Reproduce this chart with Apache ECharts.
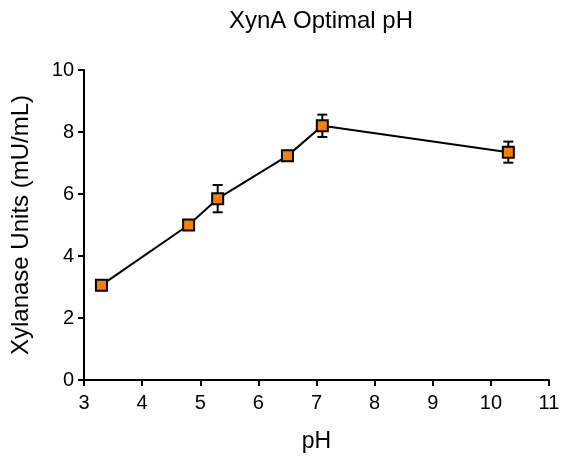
<!DOCTYPE html>
<html>
<head>
<meta charset="utf-8">
<script src="https://cdn.jsdelivr.net/npm/echarts@6/dist/echarts.min.js"></script>
<style>
  html, body { margin: 0; padding: 0; background: #fff; }
  #main { width: 566px; height: 459px; }
</style>
</head>
<body>
<div id="main"></div>
<script>
// data
var phValues = [3.3, 4.8, 5.3, 6.5, 7.1, 10.3];
var unitValues = [3.06, 5.0, 5.85, 7.23, 8.2, 7.35];
var errValues = [0.16, 0.13, 0.44, 0.05, 0.36, 0.34];

var lineData = phValues.map(function (x, i) { return [x, unitValues[i]]; });
var errData = phValues.map(function (x, i) {
  return [x, unitValues[i] - errValues[i], unitValues[i] + errValues[i]];
});

var chart = echarts.init(document.getElementById('main'));
var font = 'Liberation Sans, Arial, sans-serif';

var option = {
  backgroundColor: '#fff',
  animation: false,
  title: {
    text: 'XynA Optimal pH',
    left: 316,
    textAlign: 'center',
    top: 4,
    textStyle: { fontFamily: font, fontSize: 24, fontWeight: 'normal', color: '#000' }
  },
  grid: { left: 84, right: 17, top: 70, bottom: 79 },
  xAxis: {
    type: 'value',
    min: 3, max: 11, interval: 1,
    name: 'pH',
    nameLocation: 'middle',
    nameGap: 50,
    nameTextStyle: { fontFamily: font, fontSize: 23, color: '#000' },
    axisLine: { onZero: false, lineStyle: { color: '#000', width: 2 } },
    axisTick: { show: true, length: 6, lineStyle: { color: '#000', width: 2 } },
    axisLabel: { fontFamily: font, fontSize: 20, color: '#000', margin: 13 },
    splitLine: { show: false }
  },
  yAxis: {
    type: 'value',
    min: 0, max: 10, interval: 2,
    name: 'Xylanase Units (mU/mL)',
    nameLocation: 'middle',
    nameGap: 51,
    nameTextStyle: { fontFamily: font, fontSize: 24, color: '#000' },
    axisLine: { show: true, lineStyle: { color: '#000', width: 2 } },
    axisTick: { show: true, length: 6, lineStyle: { color: '#000', width: 2 } },
    axisLabel: { fontFamily: font, fontSize: 20, color: '#000', margin: 10 },
    splitLine: { show: false }
  },
  series: [
    {
      type: 'custom',
      data: errData,
      z: 3,
      renderItem: function (params, api) {
        var x = api.value(0);
        var lo = api.coord([x, api.value(1)]);
        var hi = api.coord([x, api.value(2)]);
        var w = 5;
        var st = { stroke: '#000', lineWidth: 2 };
        return {
          type: 'group',
          children: [
            { type: 'line', shape: { x1: lo[0], y1: lo[1], x2: hi[0], y2: hi[1] }, style: st },
            { type: 'line', shape: { x1: lo[0] - w, y1: lo[1], x2: lo[0] + w, y2: lo[1] }, style: st },
            { type: 'line', shape: { x1: hi[0] - w, y1: hi[1], x2: hi[0] + w, y2: hi[1] }, style: st }
          ]
        };
      }
    },
    {
      type: 'line',
      data: lineData,
      z: 4,
      symbol: 'rect',
      symbolSize: 11,
      lineStyle: { color: '#000', width: 2 },
      itemStyle: { color: '#ff8000', borderColor: '#000', borderWidth: 2 }
    }
  ]
};

chart.setOption(option);
</script>
</body>
</html>
